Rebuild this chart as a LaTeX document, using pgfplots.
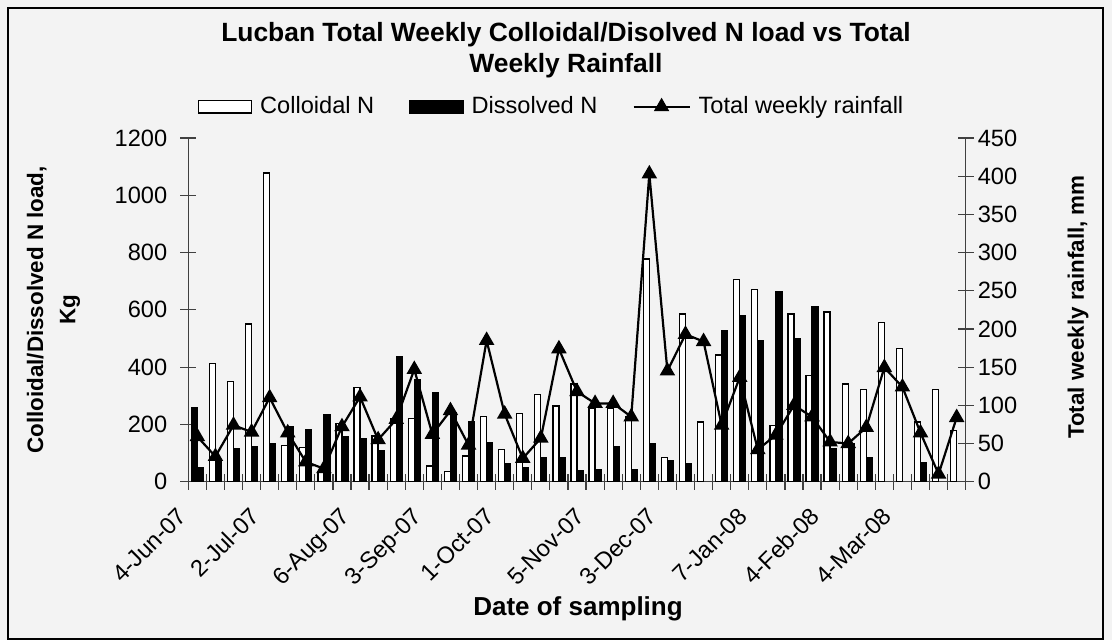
\documentclass[border=0pt]{standalone}
\usepackage{fontspec}
\setmainfont{Liberation Sans}
\usepackage{pgfplots}
\pgfplotsset{compat=1.18}
\definecolor{bg}{HTML}{F3F3F3}
\newcommand\tickfont{\fontsize{11.8pt}{14pt}\selectfont}
\newcommand\labfont{\fontsize{13pt}{15.6pt}\selectfont\bfseries}
\newcommand\rotfont{\fontsize{11.2pt}{13.4pt}\selectfont\bfseries}
\pgfplotsset{
  box legend/.style={legend image code/.code={\draw[##1, line width=0.65pt] (0pt,-3.2pt) rectangle (26.5pt,3.2pt);}},
  rain legend/.style={legend image code/.code={\draw[##1, sharp plot, mark repeat=2, mark phase=2] plot coordinates {(0pt,0pt) (14pt,0pt) (28pt,0pt)};}},
}

\begin{document}
\begin{tikzpicture}
\useasboundingbox (0,0) rectangle (556pt,320pt);
\fill[bg] (0,0) rectangle (556pt,320pt);
\draw[black, line width=0.8pt] (4pt,0.4pt) rectangle (551.5pt,316pt);

% bars, left axis
\begin{axis}[
  at={(94.15pt,79.15pt)}, anchor=south west,
  width=388.7pt, height=171.85pt, scale only axis,
  xmin=-0.5, xmax=42.5, ymin=0, ymax=1200,
  axis x line*=bottom, axis y line*=left,
  axis line style={black!75, line width=0.6pt},
  ybar, bar width=3pt,
  tick align=center, major tick length=8pt, minor tick length=8pt,
  xtick={0,4,9,13,17,22,26,31,35,39},
  xticklabels={4-Jun-07,2-Jul-07,6-Aug-07,3-Sep-07,1-Oct-07,5-Nov-07,3-Dec-07,7-Jan-08,4-Feb-08,4-Mar-08},
  major x tick style={draw=none},
  minor xtick={-0.5,0.5,...,42.5},
  minor x tick style={black!75, line width=0.6pt},
  ytick={0,200,...,1200},
  major y tick style={black!75, line width=0.6pt},
  x tick label style={xshift=-10.5pt, yshift=-6.5pt, rotate=45, anchor=north east, font=\tickfont, inner sep=1pt},
  y tick label style={font=\tickfont, xshift=-3pt},
  /pgf/number format/.cd, 1000 sep={}, assume math mode=true, /pgfplots/.cd,
  legend style={at={(0.466,1.091)}, anchor=center, draw=none, fill=none,
    legend columns=3, font=\tickfont,
    nodes={inner sep=0pt},
    /tikz/every odd column/.append style={column sep=4pt},
    /tikz/every even column/.append style={column sep=17.5pt}},
  box legend,
]
\addplot[fill=white, draw=black, line width=0.65pt, bar shift=-1.5pt] coordinates {
(1,413) (2,349) (3,551) (4,1078) (5,126) (6,120) (7,33) (8,204) (9,329)
(10,160) (11,221) (12,221) (13,55) (14,35) (15,90) (16,227) (17,113) (18,238) (19,305)
(20,264) (21,341) (22,256) (23,256) (24,227) (25,778) (26,84) (27,586) (28,208) (29,442)
(30,707) (31,670) (32,197) (33,586) (34,371) (35,592) (36,341) (37,322) (38,557) (39,466)
(40,208) (41,322) (42,178)};
\addlegendentry{Colloidal N}
\addplot[fill=black, draw=black, line width=0.65pt, bar shift=1.5pt] coordinates {
(0,50) (1,70) (2,116) (3,122) (4,133) (5,192) (6,180) (7,235) (8,157) (9,151)
(10,110) (11,436) (12,355) (13,312) (14,240) (15,209) (16,137) (17,62) (18,48) (19,85)
(20,84) (21,40) (22,43) (23,122) (24,43) (25,133) (26,72) (27,62) (29,527)
(30,581) (31,491) (32,665) (33,498) (34,612) (35,116) (36,134) (37,84)
(40,66)};
\addlegendentry{Dissolved N}
% first week's colloidal bar is filled black in the source
\addplot[fill=black, draw=black, line width=0.65pt, bar shift=-1.5pt, forget plot] coordinates {(0,258)};
\addlegendimage{black, line width=1.1pt, mark=triangle*, mark size=3.4pt, rain legend}
\addlegendentry{Total weekly rainfall}
\end{axis}

% rainfall, right axis
\begin{axis}[
  at={(94.15pt,79.15pt)}, anchor=south west,
  width=388.7pt, height=171.85pt, scale only axis,
  xmin=-0.5, xmax=42.5, ymin=0, ymax=450,
  axis x line=none, axis y line*=right,
  axis line style={black!75, line width=0.6pt},
  tick align=center, major tick length=8pt,
  ytick={0,50,...,450},
  major y tick style={black!75, line width=0.6pt},
  y tick label style={font=\tickfont, xshift=-1.5pt},
  /pgf/number format/.cd, assume math mode=true, /pgfplots/.cd,
]
\addplot[black, line width=1.1pt, mark=triangle*, mark size=3.4pt] coordinates {
(0,59) (1,33) (2,74) (3,65) (4,110) (5,64) (6,26) (7,17) (8,72) (9,111)
(10,55) (11,81.5) (12,147) (13,62) (14,93) (15,48) (16,185) (17,88.5) (18,30.5) (19,57)
(20,174) (21,118) (22,102.5) (23,102.5) (24,85) (25,403) (26,145) (27,193) (28,183.5) (29,74)
(30,136.5) (31,42) (32,61) (33,100) (34,85) (35,52) (36,50) (37,71) (38,149.5) (39,124)
(40,64) (41,10) (42,84)};
\end{axis}

% titles
\node[anchor=base, font=\fontsize{13.2pt}{15.8pt}\selectfont\bfseries] at (283pt,299pt) {Lucban Total Weekly Colloidal/Disolved N load vs Total};
\node[anchor=base, font=\fontsize{13.2pt}{15.8pt}\selectfont\bfseries] at (283pt,283.5pt) {Weekly Rainfall};
\node[rotate=90, font=\rotfont] at (18.35pt,165pt) {Colloidal/Dissolved N load,};
\node[rotate=90, font=\rotfont] at (35pt,165pt) {Kg};
\node[rotate=90, font=\rotfont] at (539pt,166.5pt) {Total weekly rainfall, mm};
\node[anchor=base, font=\labfont] at (289pt,12pt) {Date of sampling};
\end{tikzpicture}
\end{document}
